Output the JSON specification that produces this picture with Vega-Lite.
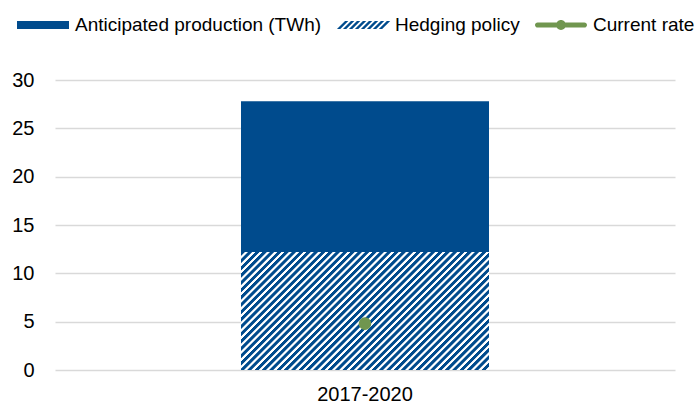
{
  "$schema": "https://vega.github.io/schema/vega-lite/v6.json",
  "width": 620,
  "height": 290,
  "autosize": "none",
  "padding": {"left": 55, "top": 80, "right": 24, "bottom": 38},
  "background": "white",
  "config": {"view": {"stroke": null}, "font": "Liberation Sans"},
  "data": {"values": [{"period": "2017-2020", "production": 27.8, "hedging": 12.2, "current": 4.8}]},
  "encoding": {
    "x": {
      "field": "period",
      "type": "nominal",
      "scale": {"paddingInner": 0.6, "paddingOuter": 0.3},
      "axis": {"title": null, "domain": false, "ticks": false, "labelAngle": 0, "labelFontSize": 20, "labelColor": "#000000", "labelFont": "Liberation Sans", "labelPadding": 14}
    }
  },
  "layer": [
    {
      "mark": {"type": "bar"},
      "encoding": {
        "y": {
          "field": "production",
          "type": "quantitative",
          "scale": {"domain": [0, 30]},
          "axis": {"title": null, "values": [0, 5, 10, 15, 20, 25, 30], "grid": true, "gridColor": "#D9D9D9", "gridWidth": 1.5, "domain": false, "ticks": false, "labelFontSize": 20, "labelColor": "#000000", "labelFont": "Liberation Sans", "labelPadding": 21}
        },
        "color": {
          "datum": "Anticipated production (TWh)",
          "scale": {"domain": ["Anticipated production (TWh)", "Hedging policy", "Current rate"], "range": ["#004B8D", "#004B8D", "#70964F"]},
          "legend": {
            "title": null,
            "orient": "none",
            "direction": "horizontal",
            "legendX": -38,
            "legendY": -81,
            "padding": 0,
            "symbolSize": 2704,
            "symbolStrokeWidth": 0,
            "labelFont": "Liberation Sans",
            "labelFontSize": 19,
            "labelColor": "#000000",
            "labelOffset": 6,
            "labelLimit": 400,
            "columnPadding": 15,
            "encode": {
              "symbols": {
                "update": {
                  "size": {"value": 2704},
                  "opacity": {"value": 1},
                  "strokeWidth": {"value": 0},
                  "shape": [
                    {"test": "datum.label === 'Current rate'", "value": "M-0.9,-0.1H0.9A0.1,0.1 0 0,1 0.9,0.1H-0.9A0.1,0.1 0 0,1 -0.9,-0.1Z M-0.19,0A0.19,0.19 0 1,1 0.19,0A0.19,0.19 0 1,1 -0.19,0Z"},
                    {"test": "datum.label === 'Hedging policy'", "value": "M-1,0.154L-0.873,0.154L-0.565,-0.154L-0.692,-0.154Z M-0.77,0.154L-0.643,0.154L-0.335,-0.154L-0.462,-0.154Z M-0.54,0.154L-0.413,0.154L-0.105,-0.154L-0.232,-0.154Z M-0.31,0.154L-0.183,0.154L0.125,-0.154L-0.002,-0.154Z M-0.08,0.154L0.047,0.154L0.355,-0.154L0.228,-0.154Z M0.15,0.154L0.277,0.154L0.585,-0.154L0.458,-0.154Z M0.38,0.154L0.507,0.154L0.815,-0.154L0.688,-0.154Z M0.61,0.154L0.737,0.154L1.045,-0.154L0.918,-0.154Z"},
                    {"value": "M-1,-0.154H1V0.154H-1Z"}
                  ]
                }
              }
            }
          }
        }
      }
    },
    {
      "mark": {
        "type": "bar",
        "fill": {
          "gradient": "linear", "x1": 0, "y1": 0, "x2": 1.2034, "y2": 0.5726,
          "stops": [
            {"offset": 0, "color": "#004B8D"}, {"offset": 0.009, "color": "#004B8D"}, {"offset": 0.012, "color": "#fff"}, {"offset": 0.018, "color": "#fff"},
            {"offset": 0.02, "color": "#004B8D"}, {"offset": 0.029, "color": "#004B8D"}, {"offset": 0.032, "color": "#fff"}, {"offset": 0.038, "color": "#fff"},
            {"offset": 0.04, "color": "#004B8D"}, {"offset": 0.049, "color": "#004B8D"}, {"offset": 0.052, "color": "#fff"}, {"offset": 0.058, "color": "#fff"},
            {"offset": 0.06, "color": "#004B8D"}, {"offset": 0.069, "color": "#004B8D"}, {"offset": 0.072, "color": "#fff"}, {"offset": 0.078, "color": "#fff"},
            {"offset": 0.08, "color": "#004B8D"}, {"offset": 0.089, "color": "#004B8D"}, {"offset": 0.092, "color": "#fff"}, {"offset": 0.098, "color": "#fff"},
            {"offset": 0.1, "color": "#004B8D"}, {"offset": 0.109, "color": "#004B8D"}, {"offset": 0.112, "color": "#fff"}, {"offset": 0.118, "color": "#fff"},
            {"offset": 0.12, "color": "#004B8D"}, {"offset": 0.129, "color": "#004B8D"}, {"offset": 0.132, "color": "#fff"}, {"offset": 0.138, "color": "#fff"},
            {"offset": 0.14, "color": "#004B8D"}, {"offset": 0.149, "color": "#004B8D"}, {"offset": 0.152, "color": "#fff"}, {"offset": 0.158, "color": "#fff"},
            {"offset": 0.16, "color": "#004B8D"}, {"offset": 0.169, "color": "#004B8D"}, {"offset": 0.172, "color": "#fff"}, {"offset": 0.178, "color": "#fff"},
            {"offset": 0.18, "color": "#004B8D"}, {"offset": 0.189, "color": "#004B8D"}, {"offset": 0.192, "color": "#fff"}, {"offset": 0.198, "color": "#fff"},
            {"offset": 0.2, "color": "#004B8D"}, {"offset": 0.209, "color": "#004B8D"}, {"offset": 0.212, "color": "#fff"}, {"offset": 0.218, "color": "#fff"},
            {"offset": 0.22, "color": "#004B8D"}, {"offset": 0.229, "color": "#004B8D"}, {"offset": 0.232, "color": "#fff"}, {"offset": 0.238, "color": "#fff"},
            {"offset": 0.24, "color": "#004B8D"}, {"offset": 0.249, "color": "#004B8D"}, {"offset": 0.252, "color": "#fff"}, {"offset": 0.258, "color": "#fff"},
            {"offset": 0.26, "color": "#004B8D"}, {"offset": 0.269, "color": "#004B8D"}, {"offset": 0.272, "color": "#fff"}, {"offset": 0.278, "color": "#fff"},
            {"offset": 0.28, "color": "#004B8D"}, {"offset": 0.289, "color": "#004B8D"}, {"offset": 0.292, "color": "#fff"}, {"offset": 0.298, "color": "#fff"},
            {"offset": 0.3, "color": "#004B8D"}, {"offset": 0.309, "color": "#004B8D"}, {"offset": 0.312, "color": "#fff"}, {"offset": 0.318, "color": "#fff"},
            {"offset": 0.32, "color": "#004B8D"}, {"offset": 0.329, "color": "#004B8D"}, {"offset": 0.332, "color": "#fff"}, {"offset": 0.338, "color": "#fff"},
            {"offset": 0.34, "color": "#004B8D"}, {"offset": 0.349, "color": "#004B8D"}, {"offset": 0.352, "color": "#fff"}, {"offset": 0.358, "color": "#fff"},
            {"offset": 0.36, "color": "#004B8D"}, {"offset": 0.369, "color": "#004B8D"}, {"offset": 0.372, "color": "#fff"}, {"offset": 0.378, "color": "#fff"},
            {"offset": 0.38, "color": "#004B8D"}, {"offset": 0.389, "color": "#004B8D"}, {"offset": 0.392, "color": "#fff"}, {"offset": 0.398, "color": "#fff"},
            {"offset": 0.4, "color": "#004B8D"}, {"offset": 0.409, "color": "#004B8D"}, {"offset": 0.412, "color": "#fff"}, {"offset": 0.418, "color": "#fff"},
            {"offset": 0.42, "color": "#004B8D"}, {"offset": 0.429, "color": "#004B8D"}, {"offset": 0.432, "color": "#fff"}, {"offset": 0.438, "color": "#fff"},
            {"offset": 0.44, "color": "#004B8D"}, {"offset": 0.449, "color": "#004B8D"}, {"offset": 0.452, "color": "#fff"}, {"offset": 0.458, "color": "#fff"},
            {"offset": 0.46, "color": "#004B8D"}, {"offset": 0.469, "color": "#004B8D"}, {"offset": 0.472, "color": "#fff"}, {"offset": 0.478, "color": "#fff"},
            {"offset": 0.48, "color": "#004B8D"}, {"offset": 0.489, "color": "#004B8D"}, {"offset": 0.492, "color": "#fff"}, {"offset": 0.498, "color": "#fff"},
            {"offset": 0.5, "color": "#004B8D"}, {"offset": 0.509, "color": "#004B8D"}, {"offset": 0.512, "color": "#fff"}, {"offset": 0.518, "color": "#fff"},
            {"offset": 0.52, "color": "#004B8D"}, {"offset": 0.529, "color": "#004B8D"}, {"offset": 0.532, "color": "#fff"}, {"offset": 0.538, "color": "#fff"},
            {"offset": 0.54, "color": "#004B8D"}, {"offset": 0.549, "color": "#004B8D"}, {"offset": 0.552, "color": "#fff"}, {"offset": 0.558, "color": "#fff"},
            {"offset": 0.56, "color": "#004B8D"}, {"offset": 0.569, "color": "#004B8D"}, {"offset": 0.572, "color": "#fff"}, {"offset": 0.578, "color": "#fff"},
            {"offset": 0.58, "color": "#004B8D"}, {"offset": 0.589, "color": "#004B8D"}, {"offset": 0.592, "color": "#fff"}, {"offset": 0.598, "color": "#fff"},
            {"offset": 0.6, "color": "#004B8D"}, {"offset": 0.609, "color": "#004B8D"}, {"offset": 0.612, "color": "#fff"}, {"offset": 0.618, "color": "#fff"},
            {"offset": 0.62, "color": "#004B8D"}, {"offset": 0.629, "color": "#004B8D"}, {"offset": 0.632, "color": "#fff"}, {"offset": 0.638, "color": "#fff"},
            {"offset": 0.64, "color": "#004B8D"}, {"offset": 0.649, "color": "#004B8D"}, {"offset": 0.652, "color": "#fff"}, {"offset": 0.658, "color": "#fff"},
            {"offset": 0.66, "color": "#004B8D"}, {"offset": 0.669, "color": "#004B8D"}, {"offset": 0.672, "color": "#fff"}, {"offset": 0.678, "color": "#fff"},
            {"offset": 0.68, "color": "#004B8D"}, {"offset": 0.689, "color": "#004B8D"}, {"offset": 0.692, "color": "#fff"}, {"offset": 0.698, "color": "#fff"},
            {"offset": 0.7, "color": "#004B8D"}, {"offset": 0.709, "color": "#004B8D"}, {"offset": 0.712, "color": "#fff"}, {"offset": 0.718, "color": "#fff"},
            {"offset": 0.72, "color": "#004B8D"}, {"offset": 0.729, "color": "#004B8D"}, {"offset": 0.732, "color": "#fff"}, {"offset": 0.738, "color": "#fff"},
            {"offset": 0.74, "color": "#004B8D"}, {"offset": 0.749, "color": "#004B8D"}, {"offset": 0.752, "color": "#fff"}, {"offset": 0.758, "color": "#fff"},
            {"offset": 0.76, "color": "#004B8D"}, {"offset": 0.769, "color": "#004B8D"}, {"offset": 0.772, "color": "#fff"}, {"offset": 0.778, "color": "#fff"},
            {"offset": 0.78, "color": "#004B8D"}, {"offset": 0.789, "color": "#004B8D"}, {"offset": 0.792, "color": "#fff"}, {"offset": 0.798, "color": "#fff"},
            {"offset": 0.8, "color": "#004B8D"}, {"offset": 0.809, "color": "#004B8D"}, {"offset": 0.812, "color": "#fff"}, {"offset": 0.818, "color": "#fff"},
            {"offset": 0.82, "color": "#004B8D"}, {"offset": 0.829, "color": "#004B8D"}, {"offset": 0.832, "color": "#fff"}, {"offset": 0.838, "color": "#fff"},
            {"offset": 0.84, "color": "#004B8D"}, {"offset": 0.849, "color": "#004B8D"}, {"offset": 0.852, "color": "#fff"}, {"offset": 0.858, "color": "#fff"},
            {"offset": 0.86, "color": "#004B8D"}, {"offset": 0.869, "color": "#004B8D"}, {"offset": 0.872, "color": "#fff"}, {"offset": 0.878, "color": "#fff"},
            {"offset": 0.88, "color": "#004B8D"}, {"offset": 0.889, "color": "#004B8D"}, {"offset": 0.892, "color": "#fff"}, {"offset": 0.898, "color": "#fff"},
            {"offset": 0.9, "color": "#004B8D"}, {"offset": 0.909, "color": "#004B8D"}, {"offset": 0.912, "color": "#fff"}, {"offset": 0.918, "color": "#fff"},
            {"offset": 0.92, "color": "#004B8D"}, {"offset": 0.929, "color": "#004B8D"}, {"offset": 0.932, "color": "#fff"}, {"offset": 0.938, "color": "#fff"},
            {"offset": 0.94, "color": "#004B8D"}, {"offset": 0.949, "color": "#004B8D"}, {"offset": 0.952, "color": "#fff"}, {"offset": 0.958, "color": "#fff"},
            {"offset": 0.96, "color": "#004B8D"}, {"offset": 0.969, "color": "#004B8D"}, {"offset": 0.972, "color": "#fff"}, {"offset": 0.978, "color": "#fff"},
            {"offset": 0.98, "color": "#004B8D"}, {"offset": 0.989, "color": "#004B8D"}, {"offset": 0.992, "color": "#fff"}, {"offset": 0.998, "color": "#fff"},
            {"offset": 1, "color": "#004B8D"}
          ]
        }
      },
      "encoding": {"y": {"field": "hedging", "type": "quantitative"}}
    },
    {
      "mark": {"type": "point", "filled": true, "size": 160, "opacity": 1, "strokeWidth": 0},
      "encoding": {
        "y": {"field": "current", "type": "quantitative"},
        "color": {"datum": "Current rate"}
      }
    }
  ]
}
